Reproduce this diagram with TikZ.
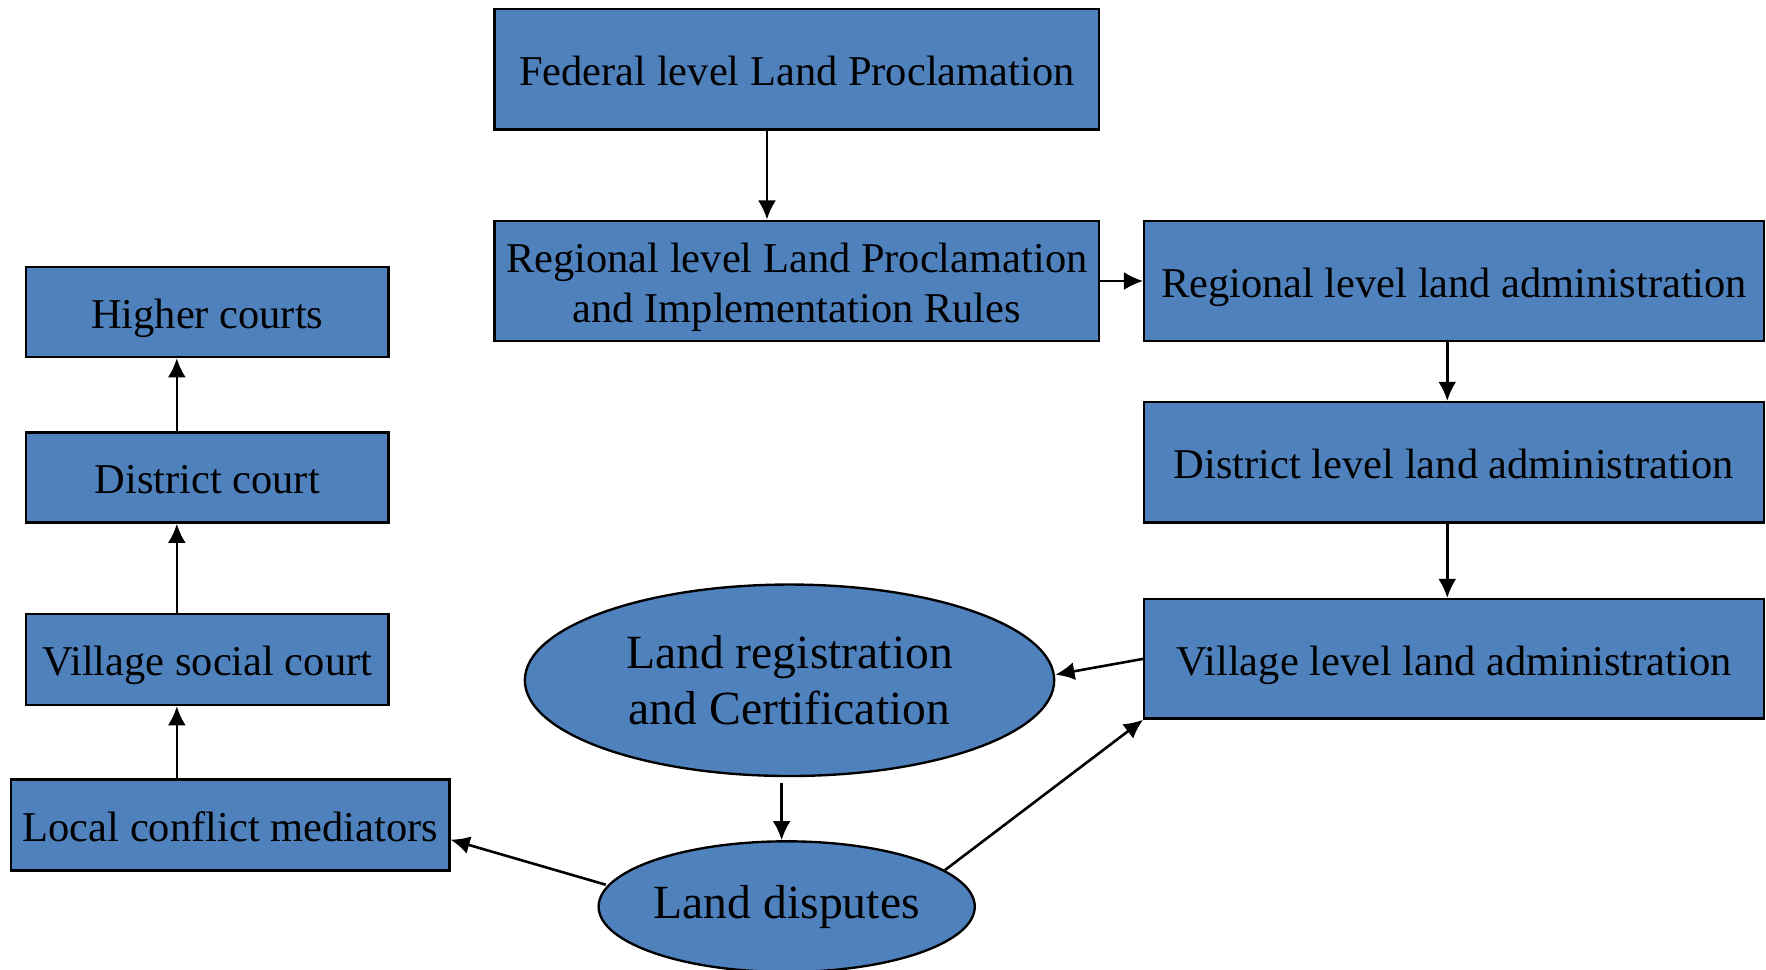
\documentclass[tikz,border=0pt]{standalone}
\usepackage{fontspec}
\setmainfont{Liberation Serif}
\usetikzlibrary{shapes.geometric,arrows.meta}
\definecolor{boxblue}{HTML}{4F81BD}
\begin{document}
\begin{tikzpicture}[x=1pt,y=-1pt,
  boxbase/.style={draw=black,line width=2.1pt,fill=boxblue,inner sep=0pt,align=center,
    font=\fontsize{37.7}{44.5}\selectfont},
  box/.style={boxbase,text height=29pt,text depth=0pt},
  ell/.style={ellipse,draw=black,line width=2.1pt,fill=boxblue,inner sep=0pt,align=center,
    font=\fontsize{42.3}{50}\selectfont},
  arr/.style={line width=2.3pt,-{Latex[length=17pt,width=16pt]}}]
\useasboundingbox (0,0) rectangle (1568,861);
% right column
\node[box,minimum width=537pt,minimum height=107pt] (fed) at (707.5,61.5) {Federal level Land Proclamation};
\node[boxbase,minimum width=537pt,minimum height=107pt] (rp) at (707.5,249.5) {\rule{0pt}{37pt}Regional level Land Proclamation\\and Implementation Rules};
\node[box,minimum width=550pt,minimum height=107pt] (ra) at (1291,249.5) {Regional level land administration};
\node[box,minimum width=550pt,minimum height=107pt] (da) at (1291,410.5) {District level land administration};
\node[box,minimum width=550pt,minimum height=106pt] (va) at (1291,585) {Village level land administration};
% left column
\node[box,minimum width=322pt,minimum height=80pt] (hc) at (184,277) {Higher courts};
\node[box,minimum width=322pt,minimum height=80pt] (dc) at (184,424) {District court};
\node[box,minimum width=322pt,minimum height=81pt] (vs) at (184,585.5) {Village social court};
\node[box,minimum width=389pt,minimum height=81pt] (lc) at (204.5,732.5) {Local conflict mediators};
% ellipses
\node[ell,minimum width=470pt,minimum height=170pt] (lr) at (701,604) {Land registration\\and Certification};
\node[ell,minimum width=331pt,minimum height=116pt] (ld) at (698.5,805) {Land disputes};
% connectors
\draw[arr] ([xshift=-26.5pt]fed.south) -- ([xshift=-26.5pt]rp.north);
\draw[arr] (rp.east) -- (ra.west);
\draw[arr] ([xshift=-6pt]ra.south) -- ([xshift=-6pt]da.north);
\draw[arr] ([xshift=-6pt]da.south) -- ([xshift=-6pt]va.north);
\draw[arr] (va.west) -- ([yshift=5pt]lr.east);
\draw[arr] ([xshift=-7pt,yshift=-5pt]lr.south) -- ([xshift=-4.5pt]ld.north);
\draw[arr] ([xshift=-2pt]ld.173) -- ([yshift=-13pt]lc.east);
\draw[arr] (ld.13) -- (va.south west);
\draw[arr] ([xshift=-47.5pt]lc.north) -- ([xshift=-27pt]vs.south);
\draw[arr] ([xshift=-27pt]vs.north) -- ([xshift=-27pt]dc.south);
\draw[arr] ([xshift=-27pt]dc.north) -- ([xshift=-27pt]hc.south);
\end{tikzpicture}
\end{document}
